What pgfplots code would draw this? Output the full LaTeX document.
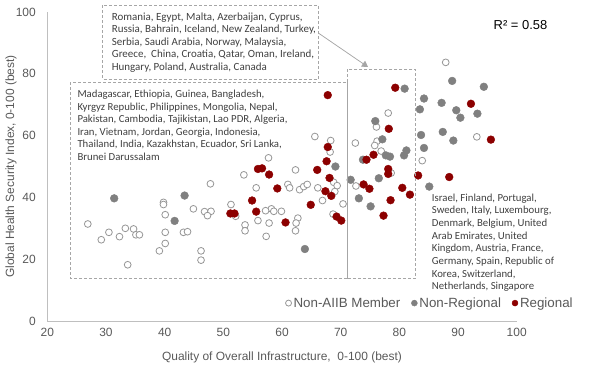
\documentclass[border=0pt]{standalone}
\usepackage{fontspec}
\setmainfont{Liberation Sans}
\newfontfamily\calibri{Carlito}
\usepackage{pgfplots}
\pgfplotsset{compat=1.18}
\usetikzlibrary{arrows.meta}
\definecolor{redc}{RGB}{140,0,0}
\definecolor{grayc}{RGB}{128,128,128}
\definecolor{opengray}{RGB}{150,150,150}
\definecolor{labelgray}{RGB}{89,89,89}
\definecolor{axisgray}{RGB}{191,191,191}
\definecolor{boxgray}{RGB}{166,166,166}
\definecolor{txtgray}{RGB}{64,64,64}
\begin{document}
\begin{tikzpicture}
\begin{axis}[
  at={(47.3bp,-321bp)}, anchor=south west,
  scale only axis, width=469.4bp, height=309bp,
  xmin=20, xmax=100, ymin=0, ymax=100,
  xtick={20,30,...,100}, ytick={0,20,...,100},
  axis x line*=bottom, axis y line*=left,
  axis line style={draw=axisgray, line width=0.75bp, -},
  major tick length=0pt,
  tick label style={font=\fontsize{12}{14}\selectfont, text=labelgray},
  /pgf/number format/assume math mode=true,
  xticklabel style={yshift=-4bp},
  yticklabel style={xshift=-8bp},
  clip=false,
  legend style={at={(1.124,0.058)}, anchor=east, draw=none, fill=none,
    font=\fontsize{13.4}{15}\selectfont, text=labelgray, inner sep=0pt, row sep=0pt,
    nodes={inner sep=2bp},
    /tikz/every even column/.append style={column sep=9bp}},
  legend columns=3,
  legend image code/.code={\draw[#1] plot coordinates {(0bp,0bp)};},
  legend image post style={mark size=3bp},
]
\addplot[only marks, mark=*, mark size=3.4bp, mark options={fill=white, draw=opengray, line width=0.8bp}] coordinates {
(26.9,31.4) (30.5,28.7) (29.2,26.3) (32.3,27.3) (33.3,30.0) (34.7,29.8) (35.1,27.9) (35.7,27.9)
(33.7,18.2) (39.8,38.4) (39.8,37.7) (40.1,34.4) (40.1,28.7) (40.1,25.1) (39.1,22.7) (43.2,28.7)
(43.9,28.9) (44.9,36.3) (46.8,35.4) (47.9,35.5) (47.3,34.1) (46.2,22.7) (46.2,19.7) (47.8,44.4)
(65.6,59.7) (68.3,58.4) (68.2,54.7) (62.3,48.9) (57.7,52.8) (53.5,47.3) (68.8,44.9) (69.4,43.8)
(55.6,43.1) (61.0,44.2) (61.3,43.1) (63.0,42.5) (63.7,43.5) (64.3,44.2) (66.1,43.1) (69.0,41.9)
(66.9,39.0) (70.4,37.9) (51.3,37.7) (58.2,36.3) (57.2,35.7) (58.6,35.5) (59.9,35.5) (52.1,33.9)
(55.9,32.5) (57.8,31.7) (53.7,31.1) (53.7,29.2) (62.7,33.3) (62.4,31.7) (62.3,29.2) (57.3,27.4)
(68.7,34.6)
(87.9,83.7) (78.1,67.3) (76.1,62.8) (93.2,59.6) (72.5,57.6) (76.2,58.2) (75.8,56.8) (76.9,55.0)
(83.9,51.9) (78.6,47.9) (72.6,43.7)
};
\addlegendentry{Non-AIIB Member}
\addplot[only marks, mark=*, mark size=3.9bp, mark options={fill=grayc, draw=grayc, line width=0.4bp}] coordinates {
(31.4,39.7) (43.4,40.6) (41.7,32.4) (69.1,50.0) (71.7,45.7) (63.9,23.3)
(89.0,77.7) (94.4,75.8) (80.9,75.2) (84.2,72.0) (87.2,70.6) (83.5,68.5) (89.7,68.2) (90.4,65.8)
(93.3,67.1) (75.9,64.7) (83.7,60.2) (87.4,61.2) (89.2,58.4) (77.1,58.8) (84.2,56.0) (81.2,55.2)
(80.8,53.6) (77.7,53.6) (78.4,53.2) (73.8,52.2) (76.5,46.2) (85.1,43.5) (73.1,39.7) (75.1,37.1)
};
\addlegendentry{Non-Regional}
\addplot[only marks, mark=*, mark size=3.9bp, mark options={fill=redc, draw=redc, line width=0.4bp}] coordinates {
(67.8,73.1) (67.8,56.3) (67.6,51.7) (66.0,48.9) (55.9,49.2) (56.6,49.4) (57.8,47.4) (68.1,46.3)
(59.2,42.9) (67.4,42.0) (68.4,40.5) (54.9,39.0) (64.9,37.6) (55.6,35.4) (51.2,34.8) (51.9,34.8)
(60.6,31.9) (69.3,33.8) (70.1,32.5)
(79.3,75.5) (92.2,70.3) (78.2,62.2) (95.6,58.7) (75.6,53.8) (74.4,52.2) (78.1,49.2) (78.1,47.6)
(83.2,47.1) (88.5,46.6) (73.9,44.2) (74.9,42.8) (80.5,43.1) (81.8,40.9) (78.5,39.1) (77.3,34.1)
};
\addlegendentry{Regional}
\end{axis}
\begin{scope}[x=1bp, y=-1bp]
  \draw[boxgray, line width=0.75bp, dash pattern=on 3bp off 2bp] (102.7,5) rectangle (318.3,79);
  \draw[boxgray, line width=0.75bp, dash pattern=on 3bp off 2bp] (70,82) rectangle (347,278);
  \draw[boxgray, line width=0.75bp, dash pattern=on 3bp off 2bp] (347,69) rectangle (415.7,278);
  \draw[boxgray, line width=1bp] (347,82) -- (347,278);
  \draw[boxgray, line width=0.75bp, -{Triangle[width=7bp,length=6bp]}] (318.3,33) -- (368,67);
  \node[anchor=north west, align=left, inner sep=0pt, text=txtgray,
        font=\calibri\fontsize{11}{12.6}\selectfont] at (111.7,12.5)
  {Romania, Egypt, Malta, Azerbaijan, Cyprus,\\
   Russia, Bahrain, Iceland, New Zealand, Turkey,\\
   Serbia, Saudi Arabia, Norway, Malaysia,\\
   Greece,\ \ China, Croatia, Qatar, Oman, Ireland,\\
   Hungary, Poland, Australia, Canada};
  \node[anchor=north west, align=left, inner sep=0pt, text=txtgray,
        font=\calibri\fontsize{10.8}{12.5}\selectfont] at (77.3,90.3)
  {Madagascar, Ethiopia, Guinea, Bangladesh,\\
   Kyrgyz Republic, Philippines, Mongolia, Nepal,\\
   Pakistan, Cambodia, Tajikistan, Lao PDR, Algeria,\\
   Iran, Vietnam, Jordan, Georgia, Indonesia,\\
   Thailand, India, Kazakhstan, Ecuador, Sri Lanka,\\
   Brunei Darussalam};
  \node[anchor=north west, align=left, inner sep=0pt, text=txtgray,
        font=\calibri\fontsize{10.8}{12.7}\selectfont] at (431.7,193.5)
  {Israel, Finland, Portugal,\\
   Sweden, Italy, Luxembourg,\\
   Denmark, Belgium, United\\
   Arab Emirates, United\\
   Kingdom, Austria, France,\\
   Germany, Spain, Republic of\\
   Korea, Switzerland,\\
   Netherlands, Singapore};
  \node[font=\fontsize{13}{15}\selectfont, text=black] at (520.5,25) {R² = 0.58};
  \node[font=\fontsize{12}{14}\selectfont, text=labelgray] at (282,357) {Quality of Overall Infrastructure,\ \ 0-100 (best)};
  \node[font=\fontsize{12}{14}\selectfont, text=labelgray, rotate=90] at (11,166.5) {Global Health Security Index, 0-100 (best)};
  \pgfresetboundingbox
  \path[use as bounding box] (0,0) rectangle (590,374);
\end{scope}
\end{tikzpicture}
\end{document}
